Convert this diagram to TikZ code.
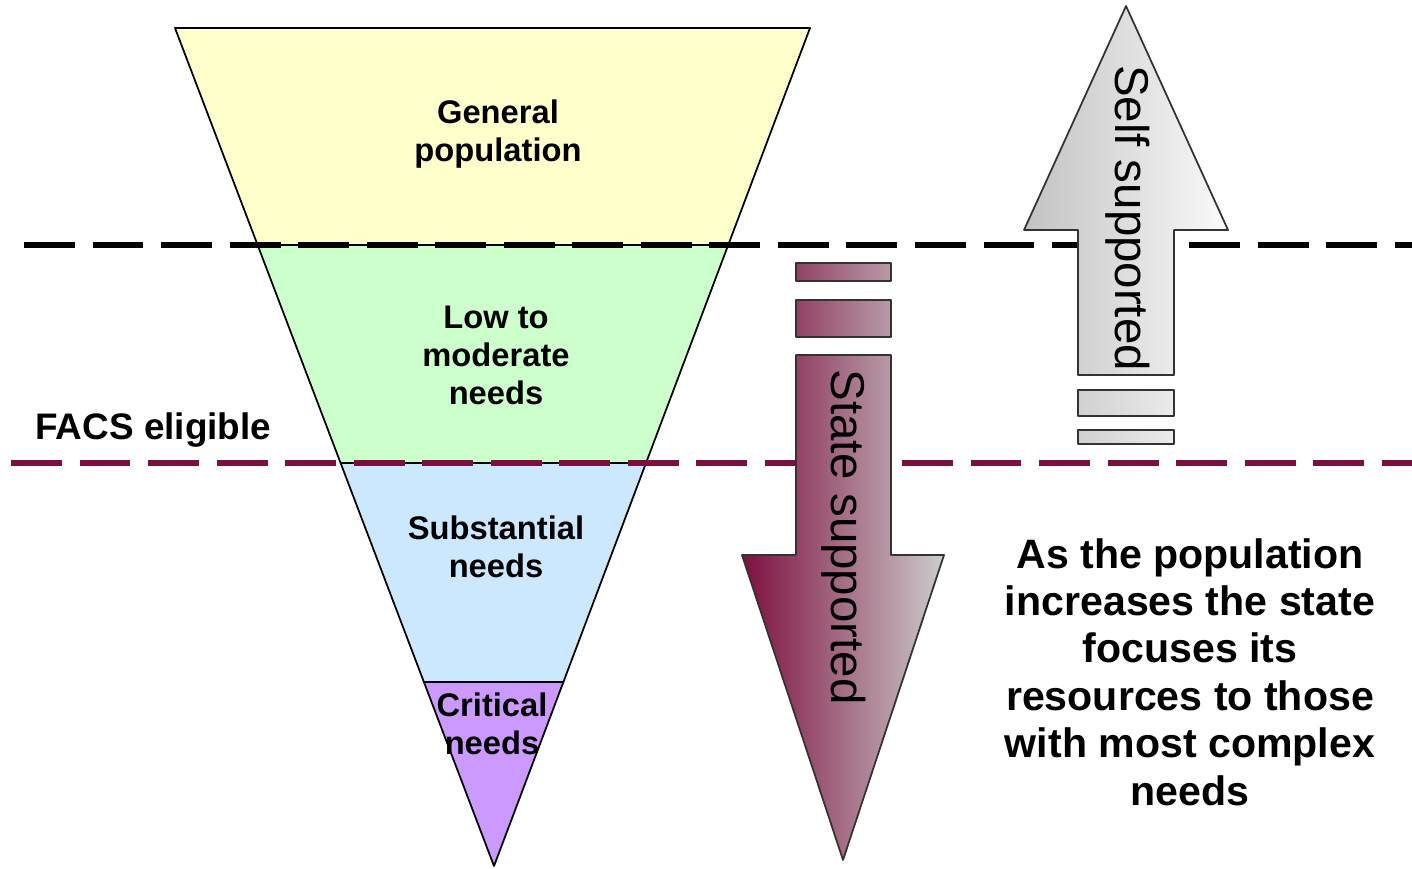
\documentclass[tikz,border=0pt]{standalone}
\usepackage{fontspec}
\setmainfont{Liberation Sans}
\usepackage{xcolor}
\usepackage{tikz}
\usetikzlibrary{calc}
\definecolor{ffffcc}{rgb}{1.,1.,0.8}
\definecolor{ccffcc}{rgb}{0.8,1.,0.8}
\definecolor{cce8ff}{rgb}{0.8,0.91,1.}
\definecolor{cc99ff}{rgb}{0.8,0.6,1.}
\definecolor{zzqqtt}{rgb}{0.49,0.06,0.25}
\definecolor{cccccc}{rgb}{0.8,0.8,0.8}
\definecolor{bebebe}{rgb}{0.76,0.76,0.76}
\definecolor{f9f9f9}{rgb}{0.98,0.98,0.98}
\tikzstyle{every node}=[font=\bfseries\fontsize{9.3}{10.8}\selectfont,align=center]

\begin{document}
\begin{tikzpicture}[line cap=round,line join=round,x=1.0cm,y=1.0cm]

            \useasboundingbox (0.,0.) rectangle (14.12,8.68);
            % funnel
            \draw [line width=0.5pt,fill=ffffcc] (1.75,8.4) -- (8.1,8.4) -- (7.282,6.23) -- (2.576,6.23) -- cycle;
            \draw [line width=0.5pt,fill=ccffcc] (2.576,6.23) -- (7.282,6.23) -- (6.46,4.05) -- (3.406,4.05) -- cycle;
            \draw [line width=0.5pt,fill=cce8ff] (3.406,4.05) -- (6.46,4.05) -- (5.634,1.86) -- (4.239,1.86) -- cycle;
            \draw [line width=0.5pt,fill=cc99ff] (4.239,1.86) -- (5.634,1.86) -- (4.94,0.02) -- cycle;
            % dashed limits
            \draw [line width=1.8pt,line cap=butt,dash pattern=on 14.5pt off 5pt] (0.24,6.23) -- (14.12,6.23);
            \draw [line width=1.8pt,line cap=butt,dash pattern=on 14.5pt off 5pt,color=zzqqtt] (0.11,4.05) -- (14.12,4.05);
            % state supported
            \shade [left color=zzqqtt,right color=cccccc,draw=black!80,line width=0.5pt] (7.96,5.13) -- (8.91,5.13) -- (8.91,3.13) -- (9.44,3.13) -- (8.43,0.08) -- (7.42,3.13) -- (7.96,3.13) -- cycle;
            \shade [left color=zzqqtt!73!cccccc,right color=zzqqtt!26!cccccc,draw=black!80,line width=0.5pt] (7.96,5.31) rectangle (8.91,5.68);
            \shade [left color=zzqqtt!73!cccccc,right color=zzqqtt!26!cccccc,draw=black!80,line width=0.5pt] (7.96,5.87) rectangle (8.91,6.05);
            % self supported
            \shade [left color=bebebe,right color=f9f9f9,draw=black!80,line width=0.5pt] (10.78,4.93) -- (11.74,4.93) -- (11.74,6.38) -- (12.28,6.38) -- (11.26,8.62) -- (10.24,6.38) -- (10.78,6.38) -- cycle;
            \shade [left color=bebebe!74!f9f9f9,right color=bebebe!27!f9f9f9,draw=black!80,line width=0.5pt] (10.78,4.52) rectangle (11.74,4.78);
            \shade [left color=bebebe!74!f9f9f9,right color=bebebe!27!f9f9f9,draw=black!80,line width=0.5pt] (10.78,4.24) rectangle (11.74,4.38);
            % texts
            \node (gen) at (4.98,7.34) {General\\population};
            \node (low) at (4.96,5.13) {Low to\\moderate\\needs};
            \node (subst) at (4.96,3.21) {Substantial\\needs};
            \node (crit) at (4.92,1.44) {Critical\\needs};
            \node [anchor=west,font=\bfseries\fontsize{10.5}{12}\selectfont] (facs) at (0.23,4.38) {FACS eligible};
            \node [font=\bfseries\fontsize{11.7}{13.5}\selectfont] (note) at (11.9,1.96) {As the population\\increases the state\\focuses its\\resources to those\\with most complex\\needs};
            \node [rotate=-90,font=\fontsize{13.5}{16}\selectfont] (state) at (8.44,3.31) {State supported};
            \node [rotate=-90,font=\fontsize{13.5}{16}\selectfont] (self) at (11.28,6.5) {Self supported};
            \end{tikzpicture}
\end{document}
